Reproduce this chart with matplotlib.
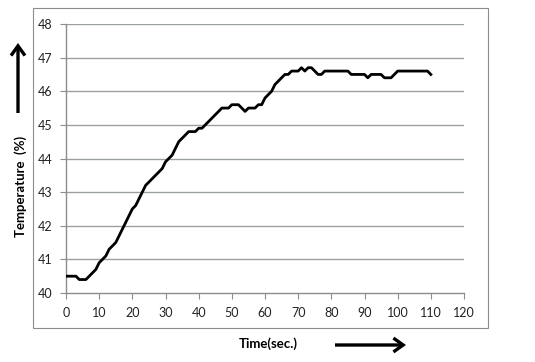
import matplotlib
matplotlib.use("Agg")
import matplotlib.pyplot as plt
from matplotlib.patches import Rectangle, FancyArrowPatch

time_s = list(range(0, 111))
temperature = [
    40.5, 40.5, 40.5, 40.5, 40.4, 40.4, 40.4, 40.5, 40.6, 40.7,
    40.9, 41.0, 41.1, 41.3, 41.4, 41.5, 41.7, 41.9, 42.1, 42.3,
    42.5, 42.6, 42.8, 43.0, 43.2, 43.3, 43.4, 43.5, 43.6, 43.7,
    43.9, 44.0, 44.1, 44.3, 44.5, 44.6, 44.7, 44.8, 44.8, 44.8,
    44.9, 44.9, 45.0, 45.1, 45.2, 45.3, 45.4, 45.5, 45.5, 45.5,
    45.6, 45.6, 45.6, 45.5, 45.4, 45.5, 45.5, 45.5, 45.6, 45.6,
    45.8, 45.9, 46.0, 46.2, 46.3, 46.4, 46.5, 46.5, 46.6, 46.6,
    46.6, 46.7, 46.6, 46.7, 46.7, 46.6, 46.5, 46.5, 46.6, 46.6,
    46.6, 46.6, 46.6, 46.6, 46.6, 46.6, 46.5, 46.5, 46.5, 46.5,
    46.5, 46.4, 46.5, 46.5, 46.5, 46.5, 46.4, 46.4, 46.4, 46.5,
    46.6, 46.6, 46.6, 46.6, 46.6, 46.6, 46.6, 46.6, 46.6, 46.6,
    46.5,
]
x_ticks = list(range(0, 121, 10))
y_ticks = list(range(40, 49))

plt.rcParams['font.family'] = ['Lato', 'DejaVu Sans']

fig = plt.figure(figsize=(5.35, 3.62), dpi=100)
fig.patch.set_facecolor('white')

# outer chart frame
fig.patches.append(Rectangle((33/535, 1-328/362), 455/535, 320/362,
                             transform=fig.transFigure, fill=False,
                             edgecolor='#8c8c8c', linewidth=0.8, zorder=0))

ax = fig.add_axes([66/535, 1-293/362, (464-66)/535, (293-24)/362])
grid_c = '#9aa39a'
for v in y_ticks[1:]:
    ax.axhline(v, color=grid_c, linewidth=1.0, zorder=1)
ax.plot(time_s, temperature, color='black', linewidth=2.0, zorder=3,
        solid_joinstyle='round')

ax.set_xlim(0, 120)
ax.set_ylim(40, 48)
ax.set_xticks(x_ticks)
ax.set_yticks(y_ticks)
ax.tick_params(axis='both', labelsize=9, colors='#222222', length=4,
               width=0.8, direction='out', pad=6)
ax.tick_params(axis='x', color='#8c8c8c')
ax.tick_params(axis='y', color='#8c8c8c')
for s in ['top', 'right']:
    ax.spines[s].set_visible(False)
for s in ['left', 'bottom']:
    ax.spines[s].set_color('#8c8c8c')
    ax.spines[s].set_linewidth(1.0)

fig.text(21/535, 1-186/362, 'Temperature  (%)', rotation=90, ha='center',
         va='center', fontsize=9.5, fontweight='bold')
fig.text(268/535, 1-344/362, 'Time(sec.)', ha='center', va='center',
         fontsize=9.5, fontweight='bold')

# arrows
arrow_kw = dict(arrowstyle='->,head_length=0.35,head_width=0.25',
                mutation_scale=20, color='black', lw=2.4,
                shrinkA=0, shrinkB=0, capstyle='butt', joinstyle='miter')
fig.add_artist(FancyArrowPatch(
    (18/535, 1-113/362), (18/535, 1-43/362), transform=fig.transFigure,
    **arrow_kw))
fig.add_artist(FancyArrowPatch(
    (335/535, 1-345/362), (406/535, 1-345/362), transform=fig.transFigure,
    **arrow_kw))

fig.savefig('out.png', dpi=100)
